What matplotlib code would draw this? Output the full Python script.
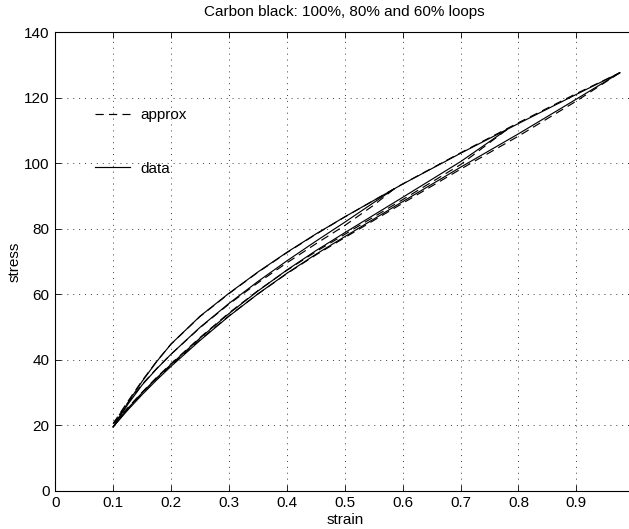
import matplotlib
matplotlib.use("Agg")
import matplotlib.pyplot as plt

plt.rcParams['font.family'] = ['Liberation Sans', 'DejaVu Sans']
plt.rcParams['font.size'] = 11

## data: loading branch and the three unloading branches

load_strain = [0.1, 0.125, 0.15, 0.175, 0.2, 0.25, 0.3, 0.35, 0.4, 0.45, 0.5, 0.6, 0.7, 0.8, 0.9, 0.975]
load_stress = [19.5, 26.75, 33.4, 39.4, 44.8, 53.3, 60.3, 66.8, 72.8, 78.4, 83.65, 93.65, 103.05, 112.15, 121.05, 127.65]

unl100_strain = [0.975, 0.9, 0.8, 0.7, 0.6, 0.5, 0.45, 0.4, 0.35, 0.3, 0.25, 0.2, 0.175, 0.15, 0.125, 0.1]
unl100_stress = [127.65, 119.6, 109.0, 98.8, 88.3, 77.6, 72.2, 66.4, 60.1, 53.3, 45.9, 38.0, 33.8, 29.35, 24.6, 19.5]

unl80_strain = [0.78, 0.7, 0.6, 0.5, 0.45, 0.4, 0.35, 0.3, 0.25, 0.2, 0.175, 0.15, 0.125, 0.1]
unl80_stress = [110.3, 100.5, 89.6, 78.8, 73.3, 67.4, 61.0, 54.1, 46.6, 38.6, 34.4, 29.9, 25.0, 19.5]

unl60_strain = [0.585, 0.55, 0.5, 0.45, 0.4, 0.35, 0.3, 0.25, 0.2, 0.175, 0.15, 0.125, 0.1]
unl60_stress = [92.15, 88.0, 82.0, 76.2, 70.2, 63.9, 57.2, 49.9, 41.7, 37.2, 32.3, 26.3, 19.5]

## approximations (dashed)
app_load_strain = load_strain
app_load_stress = [20.5, 27.2, 33.6, 39.5, 44.8, 53.2, 60.2, 66.7, 72.7, 78.3, 83.6, 93.7, 103.2, 112.4, 121.3, 127.65]

app100_strain = unl100_strain
app100_stress = [127.65, 119.0, 108.3, 98.2, 87.8, 77.3, 72.0, 66.3, 60.1, 53.4, 46.1, 38.3, 34.2, 29.8, 25.0, 20.5]

app80_strain = unl80_strain
app80_stress = [110.3, 99.6, 88.9, 78.3, 73.0, 67.3, 61.1, 54.3, 46.8, 38.8, 34.6, 30.1, 25.3, 20.5]

app60_strain = unl60_strain
app60_stress = [92.15, 87.2, 81.0, 75.4, 69.6, 63.5, 57.0, 49.8, 41.7, 37.3, 32.5, 26.8, 20.5]

xticks = [0, 0.1, 0.2, 0.3, 0.4, 0.5, 0.6, 0.7, 0.8, 0.9, 1.0]
xticklabels = ['0', '0.1', '0.2', '0.3', '0.4', '0.5', '0.6', '0.7', '0.8', '0.9', '']
yticks = [0, 20, 40, 60, 80, 100, 120, 140]

fig = plt.figure(figsize=(6.29, 5.29), dpi=100)
ax = fig.add_axes([0.0879, 0.0724, 0.9205, 0.8665])

lw = 0.85
dash = (0, (7, 4.4))
for xs, ys in [(load_strain, load_stress), (unl100_strain, unl100_stress),
               (unl80_strain, unl80_stress), (unl60_strain, unl60_stress)]:
    ax.plot(xs, ys, color='k', lw=lw, solid_joinstyle='round')
for xs, ys in [(app_load_strain, app_load_stress), (app100_strain, app100_stress),
               (app80_strain, app80_stress), (app60_strain, app60_stress)]:
    ax.plot(xs, ys, color='k', lw=lw, linestyle=dash)

# legend without box, like the hand placed one
h1, = ax.plot([], [], color='k', lw=lw, linestyle=dash)
h2, = ax.plot([], [], color='k', lw=lw)
ax.legend([h1, h2], ['approx', 'data'], frameon=False, loc='upper left',
          bbox_to_anchor=(0.0686, 0.835), borderpad=0, borderaxespad=0,
          handlelength=2.3, handletextpad=0.65, labelspacing=2.6)

ax.set_xlim(0, 1)
ax.set_ylim(0, 140)
ax.set_xticks(xticks)
ax.set_xticklabels(xticklabels)
ax.set_yticks(yticks)
ax.grid(True, color='k', lw=0.5, linestyle=(0, (1.5, 7)))
ax.tick_params(direction='in', length=4, width=0.6, top=True, right=True, pad=4)
for s in ax.spines.values():
    s.set_linewidth(0.8)

ax.set_title("Carbon black: 100%, 80% and 60% loops", fontsize=11, pad=12)
ax.set_xlabel("strain", labelpad=2)
ax.set_ylabel("stress", labelpad=2)

fig.savefig("out.png", dpi=100)
